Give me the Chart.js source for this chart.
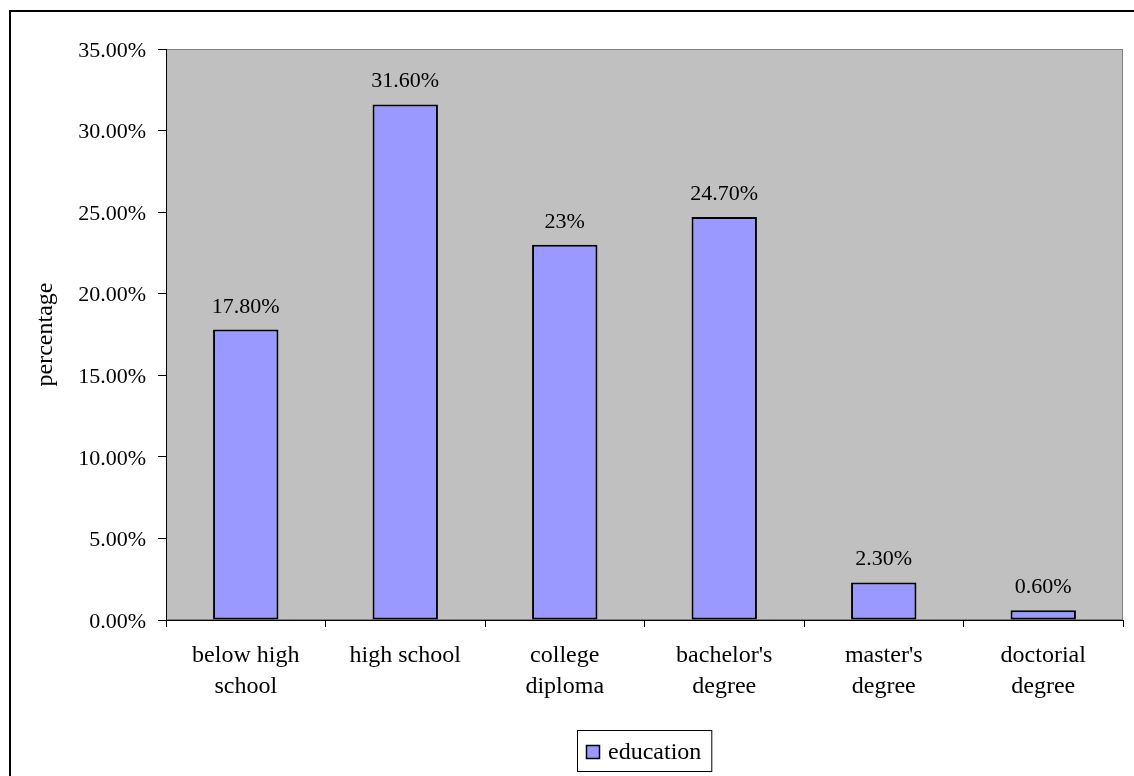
<!DOCTYPE html>
<html>
<head>
<meta charset="utf-8">
<script src="https://cdn.jsdelivr.net/npm/chart.js@4.4.0/dist/chart.umd.min.js"></script>
<style>
  html, body { margin: 0; padding: 0; background: #ffffff; }
  #wrap { width: 1134px; height: 776px; position: relative; }
</style>
</head>
<body>
<div id="wrap"><canvas id="c" width="1134" height="776"></canvas></div>
<script>
// Education levels and their share of respondents (percent)
const categories = [
  ['below high', 'school'],
  'high school',
  ['college', 'diploma'],
  ["bachelor's", 'degree'],
  ["master's", 'degree'],
  ['doctorial', 'degree']
];
const seriesName = 'education';
const shares = [17.8, 31.6, 23, 24.7, 2.3, 0.6];
const axisTitle = 'percentage';
const yMin = 0, yMax = 35, yStep = 5;

const FONT = '"Liberation Serif", "Times New Roman", serif';
const BAR_FILL = '#9999FF';
const PLOT_FILL = '#C0C0C0';

function pct(v) {
  return Number.isInteger(v) ? v + '%' : v.toFixed(2) + '%';
}

// grey plot background plus the framing line around the whole chart
const frame = {
  id: 'frame',
  beforeDraw(chart) {
    const { ctx, chartArea: a } = chart;
    ctx.save();
    ctx.fillStyle = '#ffffff';
    ctx.fillRect(0, 0, chart.width, chart.height);
    ctx.strokeStyle = '#000000';
    ctx.lineWidth = 2;
    ctx.strokeRect(10, 11, chart.width + 50, chart.height + 50);
    ctx.fillStyle = PLOT_FILL;
    ctx.fillRect(a.left, a.top, a.right - a.left, a.bottom - a.top);
    ctx.strokeStyle = '#808080';
    ctx.lineWidth = 1;
    ctx.strokeRect(a.left + 0.5, a.top + 0.5, a.right - a.left - 1, a.bottom - a.top - 1);
    ctx.restore();
  }
};

// value labels above each bar
const valueLabels = {
  id: 'valueLabels',
  afterDatasetsDraw(chart) {
    const { ctx } = chart;
    const meta = chart.getDatasetMeta(0);
    const data = chart.data.datasets[0].data;
    ctx.save();
    ctx.font = '22px ' + FONT;
    ctx.fillStyle = '#000000';
    ctx.textAlign = 'center';
    ctx.textBaseline = 'alphabetic';
    meta.data.forEach((bar, i) => {
      ctx.fillText(pct(data[i]), bar.x, bar.y - 17);
    });
    ctx.restore();
  }
};

// boxed legend centred under the plot
const boxLegend = {
  id: 'boxLegend',
  afterDraw(chart) {
    const { ctx, chartArea: a } = chart;
    const ds = chart.data.datasets[0];
    ctx.save();
    ctx.font = '24px ' + FONT;
    const tw = ctx.measureText(ds.label).width;
    const w = 9 + 14 + 8 + tw + 11;
    const h = 42;
    const x = Math.round((a.left + a.right) / 2 - w / 2);
    const y = 730;
    ctx.fillStyle = '#ffffff';
    ctx.fillRect(x, y, w, h);
    ctx.strokeStyle = '#000000';
    ctx.lineWidth = 1;
    ctx.strokeRect(x + 0.5, y + 0.5, w - 1, h - 1);
    ctx.fillStyle = ds.backgroundColor;
    ctx.fillRect(x + 9, y + 15, 14, 14);
    ctx.lineWidth = 1.5;
    ctx.strokeRect(x + 9.5, y + 15.5, 13, 13);
    ctx.fillStyle = '#000000';
    ctx.textAlign = 'left';
    ctx.textBaseline = 'alphabetic';
    ctx.fillText(ds.label, x + 31, y + 29);
    ctx.restore();
  }
};

new Chart(document.getElementById('c'), {
  type: 'bar',
  data: {
    labels: categories,
    datasets: [{
      label: seriesName,
      data: shares,
      backgroundColor: BAR_FILL,
      borderColor: '#000000',
      borderWidth: 2,
      borderSkipped: false,
      categoryPercentage: 1,
      barPercentage: 0.41
    }]
  },
  options: {
    responsive: false,
    devicePixelRatio: 1,
    animation: false,
    layout: { padding: { left: 10, top: 49, right: 11, bottom: 0 } },
    plugins: {
      legend: { display: false },
      tooltip: { enabled: false }
    },
    scales: {
      x: {
        afterFit(s) { s.height = 156; },
        grid: { display: true, drawOnChartArea: false, drawTicks: true, tickLength: 7, color: '#000000', offset: true },
        border: { display: true, color: '#000000', width: 1 },
        ticks: {
          color: '#000000',
          padding: 13,
          maxRotation: 0,
          autoSkip: false,
          font: { family: FONT, size: 24, lineHeight: 1.29 }
        }
      },
      y: {
        min: yMin,
        max: yMax,
        afterFit(s) { s.width = 156; },
        grid: { display: true, drawOnChartArea: false, drawTicks: true, tickLength: 8, color: '#000000' },
        border: { display: true, color: '#000000', width: 1 },
        ticks: {
          stepSize: yStep,
          color: '#000000',
          padding: 12,
          labelOffset: 2,
          font: { family: FONT, size: 22 },
          callback: (v) => v.toFixed(2) + '%'
        },
        title: {
          display: true,
          text: axisTitle,
          color: '#000000',
          font: { family: FONT, size: 24 },
          padding: { top: 21, bottom: 0 }
        }
      }
    }
  },
  plugins: [frame, valueLabels, boxLegend]
});
</script>
</body>
</html>
